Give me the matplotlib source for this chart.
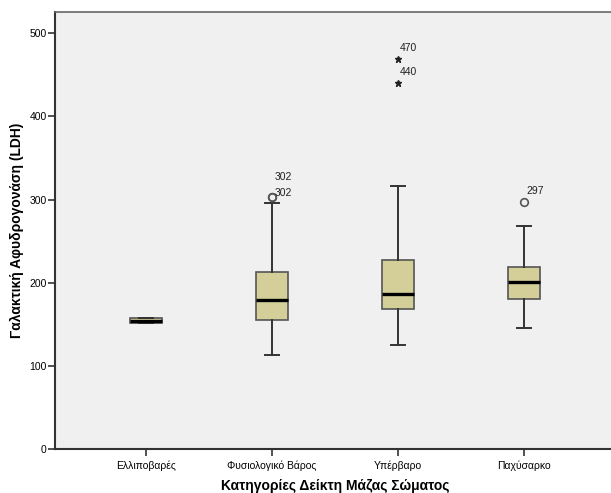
import matplotlib
matplotlib.use("Agg")
import matplotlib.pyplot as plt

# κατηγορίες ΔΜΣ
categories = ["Ελλιποβαρές", "Φυσιολογικό Βάρος", "Υπέρβαρο", "Παχύσαρκο"]

# στατιστικά θηκογράμματος (LDH)
whislo = [151, 113, 125, 146]
q1 = [151, 155.5, 168, 181]
med = [154, 179.5, 186.5, 201]
q3 = [157, 213.5, 227.5, 218.5]
whishi = [157, 296, 316, 268]

# ακραίες τιμές: (ομάδα, τιμή, ετικέτα)
outlier_pos = [2, 2, 4]
outlier_val = [303, 303, 297]
outlier_lbl = ["302", "302", "297"]
extreme_pos = [3, 3]
extreme_val = [469, 440]
extreme_lbl = ["470", "440"]

plt.rcParams['font.family'] = ['Liberation Sans', 'DejaVu Sans']

fig = plt.figure(figsize=(6.11, 4.93), dpi=100)
ax = fig.add_axes([55/611, 44/493, 560/611, 437.3/493])
ax.set_facecolor("#F0F0F0")

stats = []
for i in range(len(categories)):
    stats.append(dict(whislo=whislo[i], q1=q1[i], med=med[i], q3=q3[i],
                      whishi=whishi[i], fliers=[]))

pos = list(range(1, len(categories) + 1))
ax.bxp(stats, positions=pos, widths=0.254, patch_artist=True, showfliers=False,
       boxprops=dict(facecolor="#D4CF98", edgecolor="#555555", linewidth=1.2),
       medianprops=dict(color="black", linewidth=2.4),
       whiskerprops=dict(color="#333333", linewidth=1.4),
       capprops=dict(color="#333333", linewidth=1.4),
       capwidths=[0.11, 0.11, 0.11, 0.11])

# κύκλοι
ax.plot(outlier_pos, outlier_val, 'o', markersize=5.5, markerfacecolor='none',
        markeredgecolor='#555555', markeredgewidth=1.2, linestyle='none')
# αστεράκια
ax.plot(extreme_pos, extreme_val, '*', markersize=5, color='#222222', linestyle='none')

offs = [(2, 1), (2, 12), (2, 6)]
for p, v, t, o in zip(outlier_pos, outlier_val, outlier_lbl, offs):
    ax.annotate(t, xy=(p, v), xytext=o, textcoords='offset points',
                fontsize=7.5, color='#222222')
for p, v, t in zip(extreme_pos, extreme_val, extreme_lbl):
    ax.annotate(t, xy=(p, v), xytext=(1, 6), textcoords='offset points',
                fontsize=7.5, color='#222222')

ax.set_xlim(0.278, 4.722)
ax.set_ylim(0, 526)
ax.set_yticks([0, 100, 200, 300, 400, 500])
ax.set_xticks(pos)
ax.set_xticklabels(categories)
ax.tick_params(axis='both', labelsize=7.5, length=5, width=1.2, color='#333333')
ax.tick_params(axis='y', pad=1)
ax.tick_params(axis='x', pad=3)

for s in ["left", "bottom"]:
    ax.spines[s].set_color("#333333")
    ax.spines[s].set_linewidth(1.5)
ax.spines["top"].set_color("#666666")
ax.spines["top"].set_linewidth(1.2)
ax.spines["right"].set_visible(False)

ax.set_xlabel("Κατηγορίες Δείκτη Μάζας Σώματος", fontsize=10, fontweight='bold', labelpad=6)
ax.set_ylabel("Γαλακτική Αφυδρογονάση (LDH)", fontsize=10, fontweight='bold', labelpad=4)

fig.savefig("out.png", dpi=100)
